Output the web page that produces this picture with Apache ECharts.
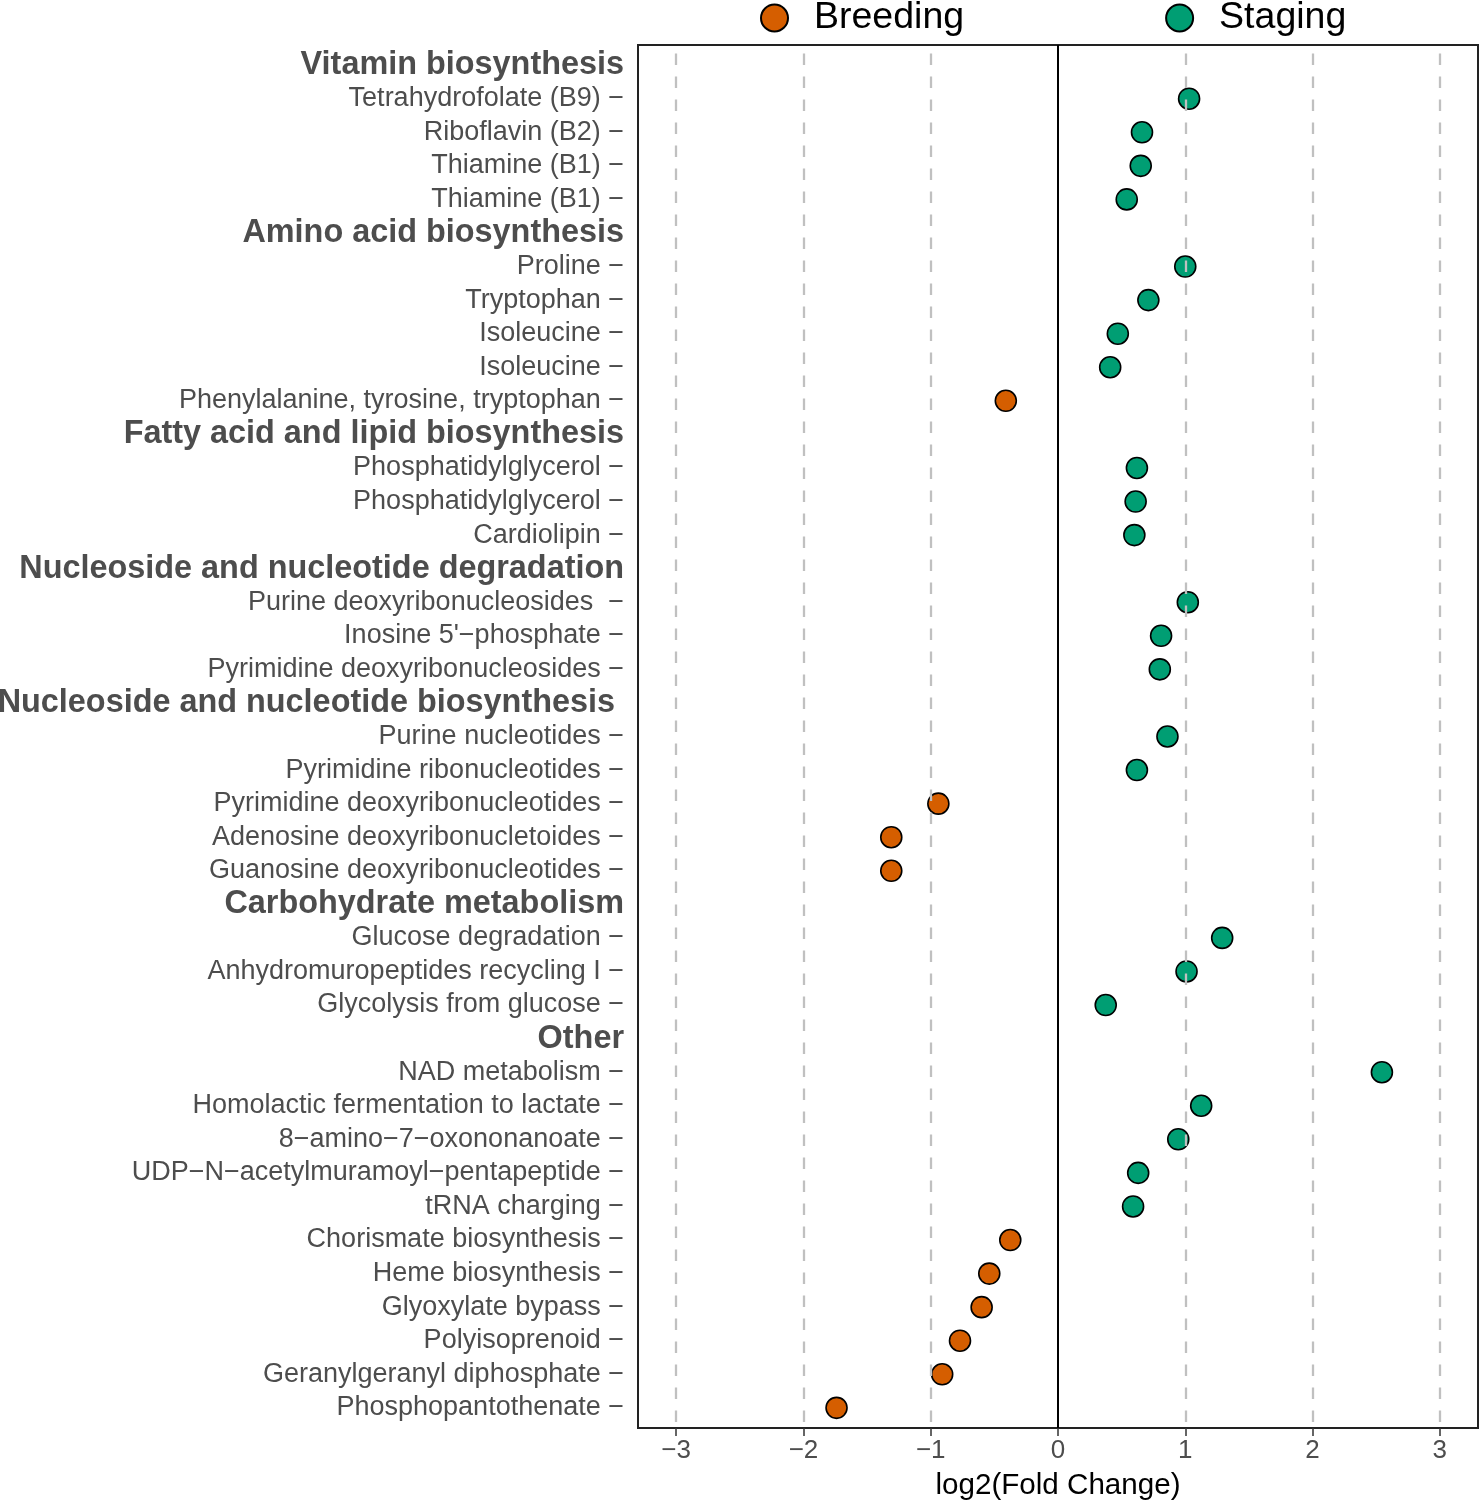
<!DOCTYPE html>
<html>
<head>
<meta charset="utf-8">
<script src="https://cdn.jsdelivr.net/npm/echarts@6/dist/echarts.min.js"></script>
<style>
    html, body { margin: 0; padding: 0; background: #fff; }
    #chart { width: 1480px; height: 1500px; }
</style>
</head>
<body>
<div id="chart"></div>
<script>
// rows top to bottom, group headers included
const labels = [
    "Vitamin biosynthesis",
    "Tetrahydrofolate (B9)", "Riboflavin (B2)", "Thiamine (B1)", "Thiamine (B1)",
    "Amino acid biosynthesis",
    "Proline", "Tryptophan", "Isoleucine", "Isoleucine", "Phenylalanine, tyrosine, tryptophan",
    "Fatty acid and lipid biosynthesis",
    "Phosphatidylglycerol", "Phosphatidylglycerol", "Cardiolipin",
    "Nucleoside and nucleotide degradation",
    "Purine deoxyribonucleosides ", "Inosine 5'\u2212phosphate", "Pyrimidine deoxyribonucleosides",
    "Nucleoside and nucleotide biosynthesis ",
    "Purine nucleotides", "Pyrimidine ribonucleotides", "Pyrimidine deoxyribonucleotides",
    "Adenosine deoxyribonucletoides", "Guanosine deoxyribonucleotides",
    "Carbohydrate metabolism",
    "Glucose degradation", "Anhydromuropeptides recycling I", "Glycolysis from glucose",
    "Other",
    "NAD metabolism", "Homolactic fermentation to lactate", "8\u2212amino\u22127\u2212oxononanoate",
    "UDP\u2212N\u2212acetylmuramoyl\u2212pentapeptide", "tRNA charging", "Chorismate biosynthesis",
    "Heme biosynthesis", "Glyoxylate bypass", "Polyisoprenoid", "Geranylgeranyl diphosphate",
    "Phosphopantothenate"
];

const headers = [
    "Vitamin biosynthesis", "Amino acid biosynthesis", "Fatty acid and lipid biosynthesis",
    "Nucleoside and nucleotide degradation", "Nucleoside and nucleotide biosynthesis ",
    "Carbohydrate metabolism", "Other"
];

// log2 fold change per row (null on header rows)
const foldChange = [
    null, 1.03, 0.66, 0.65, 0.54,
    null, 1.00, 0.71, 0.47, 0.41, -0.41,
    null, 0.62, 0.61, 0.60,
    null, 1.02, 0.81, 0.80,
    null, 0.86, 0.62, -0.94, -1.31, -1.31,
    null, 1.29, 1.01, 0.375,
    null, 2.545, 1.125, 0.945, 0.63, 0.59, -0.375, -0.54, -0.60, -0.77, -0.91, -1.74
];

// season each pathway is enriched in
const season = [
    "", "S", "S", "S", "S",
    "", "S", "S", "S", "S", "B",
    "", "S", "S", "S",
    "", "S", "S", "S",
    "", "S", "S", "B", "B", "B",
    "", "S", "S", "S",
    "", "S", "S", "S", "S", "S", "B", "B", "B", "B", "B", "B"
];

const xTicks = [-3, -2, -1, 0, 1, 2, 3];
const seasonNames = { B: "Breeding", S: "Staging" };
const seasonColors = { B: "#D55E00", S: "#009E73" };

var chart = echarts.init(document.getElementById("chart"));

function pointsFor(code) {
    const pts = [];
    foldChange.forEach((v, i) => {
        if (v !== null && season[i] === code) pts.push([v, i]);
    });
    return pts;
}

function minus(v) {
    return v < 0 ? "\u2212" + Math.abs(v) : String(v);
}

// panel: 638..1478 x 45..1428, rows expanded 0.6 each side like ggplot
const panelTop = 45, panelBottom = 1428;
const rowH = (panelBottom - panelTop) / (labels.length - 1 + 1.2);

const gridLines = xTicks.map(t => ({
    xAxis: t,
    lineStyle: t === 0
        ? { color: "#000", width: 2, type: "solid" }
        : { color: "#c0c0c0", width: 2.3, type: [11.5, 11.5], dashOffset: -6 }
}));

var option = {
    animation: false,
    backgroundColor: "#fff",
    legend: {
        data: ["Breeding", "Staging"],
        left: 755,
        top: -6,
        itemWidth: 27,
        itemHeight: 27,
        itemGap: 201,
        icon: "circle",
        textStyle: {
            fontFamily: "Liberation Sans",
            fontSize: 37.5,
            color: "#000",
            padding: [0, 0, 0, 21]
        }
    },
    grid: [
        // panel with x axis and reference lines
        { left: 638, right: 2, top: panelTop, height: panelBottom - panelTop, outerBoundsMode: "none",
          show: true, borderColor: "#222", borderWidth: 2, backgroundColor: "transparent" },
        // rows: category band = rowH, starting 0.1 row below the panel top
        { left: 638, right: 2, top: panelTop + 0.1 * rowH, height: rowH * labels.length, outerBoundsMode: "none" }
    ],
    xAxis: [
        {
            gridIndex: 0,
            type: "value",
            min: -3.3,
            max: 3.3,
            splitLine: { show: false },
            axisLine: { show: true, onZero: false, lineStyle: { color: "#222", width: 2 } },
            axisTick: { show: true, customValues: xTicks, length: 8, lineStyle: { color: "#333", width: 1.5 } },
            axisLabel: {
                customValues: xTicks,
                formatter: minus,
                margin: 10,
                fontFamily: "Liberation Sans",
                fontSize: 26,
                color: "#4d4d4d"
            },
            name: "log2(Fold Change)",
            nameLocation: "middle",
            nameGap: 43,
            nameTextStyle: { fontFamily: "Liberation Sans", fontSize: 29.6, color: "#000" }
        },
        { gridIndex: 1, type: "value", min: -3.3, max: 3.3, show: false }
    ],
    yAxis: [
        { gridIndex: 0, type: "value", min: 0, max: 1, show: false },
        {
            gridIndex: 1,
            type: "category",
            inverse: true,
            data: labels,
            axisLine: { show: false },
            axisTick: { show: false },
            splitLine: { show: false },
            axisLabel: {
                interval: 0,
                margin: 14,
                formatter: function (name) {
                    if (headers.indexOf(name) >= 0) return "{h|" + name + "}";
                    return "{n|" + name + " \u2212}";
                },
                rich: {
                    h: { fontFamily: "Liberation Sans", fontWeight: "bold", fontSize: 32.4, color: "#4d4d4d" },
                    n: { fontFamily: "Liberation Sans", fontSize: 27, color: "#4d4d4d" }
                }
            }
        }
    ],
    series: [
        {
            // reference lines only
            type: "scatter",
            xAxisIndex: 0,
            yAxisIndex: 0,
            data: [],
            z: 1,
            markLine: {
                silent: true,
                symbol: "none",
                label: { show: false },
                data: gridLines
            }
        },
        ...["B", "S"].map(code => ({
            name: seasonNames[code],
            type: "scatter",
            xAxisIndex: 1,
            yAxisIndex: 1,
            z: 3,
            symbol: "circle",
            symbolSize: 21,
            data: pointsFor(code),
            itemStyle: { color: seasonColors[code], borderColor: "#000", borderWidth: 1.6, opacity: 1 }
        }))
    ]
};

chart.setOption(option);
</script>
</body>
</html>
